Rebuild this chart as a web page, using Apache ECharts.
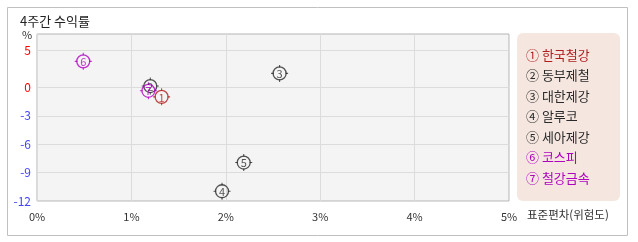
<!DOCTYPE html>
<html><head><meta charset="utf-8">
<script src="https://cdn.jsdelivr.net/npm/echarts@6/dist/echarts.min.js"></script>
<style>html,body{margin:0;padding:0;background:#fff}#c{width:638px;height:242px}</style>
</head><body><div id="c"></div>
<script>
const names = ['한국철강','동부제철','대한제강','알루코','세아제강','코스피','철강금속'];
const marks = ['①','②','③','④','⑤','⑥','⑦'];
const nums = ['1','2','3','4','5','6','7'];
const stdDev = [1.32, 1.20, 2.57, 1.96, 2.19, 0.49, 1.18];
const returns4w = [-1.0, 0.14, 1.48, -10.97, -7.94, 2.75, -0.36];
const colors = ['#b01c1c','#2a2a2a','#2a2a2a','#2a2a2a','#2a2a2a','#b000c0','#b000c0'];
const xTicks = [0,1,2,3,4,5];
const yTickVals = [-12,-9,-6,-3,0,3.92];
const yTickLabels = ['-12','-9','-6','-3','0','5'];
const FONT = '"Noto Sans CJK KR", "Noto Sans", sans-serif';

const chart = echarts.init(document.getElementById('c'), null, {renderer:'canvas'});
const series = [];
names.forEach((n,i)=>{
  series.push({
    name:n, type:'scatter', z:3,
    data:[[stdDev[i], returns4w[i]]],
    symbol:'path://M7.5,0h1v2.5h-1z M7.5,13.5h1v2.5h-1z M0,7.5h2.5v1h-2.5z M13.5,7.5h2.5v1h-2.5z',
    symbolSize:17,
    itemStyle:{color:colors[i]},
    silent:true
  });
  series.push({
    name:n, type:'scatter', z:4,
    data:[[stdDev[i], returns4w[i]]],
    symbol:'circle', symbolSize:13,
    itemStyle:{color:'rgba(0,0,0,0)', borderColor:colors[i], borderWidth:1.3},
    label:{show:true, position:'inside', formatter:nums[i], color:colors[i], fontSize:11, fontFamily:FONT, offset:[0,0.5]}
  });
});

chart.setOption({
  animation:false,
  backgroundColor:'#fff',
  title:{text:'4주간 수익률', left:15, top:10, textStyle:{fontSize:13, fontWeight:'normal', color:'#222', fontFamily:FONT}},
  grid:{left:37, top:34, right:129, bottom:41, show:true, backgroundColor:'#f4f4f4', borderColor:'#b4b4b4', borderWidth:1},
  xAxis:{type:'value', min:0, max:5, interval:1,
    axisLine:{show:false}, axisTick:{show:false},
    splitLine:{show:true, lineStyle:{color:'#dcdcdc', width:1}},
    axisLabel:{formatter:v=>v+'%', color:'#333', fontSize:11, fontFamily:FONT, margin:10}
  },
  yAxis:{type:'value', min:-12, max:5.64,
    axisLine:{show:false}, axisTick:{show:false, customValues:yTickVals},
    splitLine:{show:true, lineStyle:{color:'#dcdcdc', width:1}},
    axisLabel:{customValues:yTickVals, margin:6, fontSize:12, fontFamily:FONT,
      formatter:v=>yTickLabels[yTickVals.indexOf(v)] ?? '',
      color:v=>v>=0?'#ff0000':'#4444ff'}
  },
  legend:{orient:'vertical', left:520, top:43, icon:'none', itemGap:7, itemWidth:0, itemHeight:14,
    data:names.map((n,i)=>({name:n, textStyle:{color:colors[i]}})),
    formatter:n=>marks[names.indexOf(n)]+' '+n,
    textStyle:{fontSize:13, fontFamily:FONT, padding:[0,0,0,-4]},
    selectedMode:false
  },
  graphic:[
    {type:'rect', shape:{x:7.5,y:7.5,width:620,height:228}, style:{fill:'none', stroke:'#c0c0c0', lineWidth:1}, z:-10, silent:true},
    {type:'rect', shape:{x:517,y:33,width:103,height:168,r:6}, style:{fill:'#f5e7e0'}, z:-5, silent:true},
    {type:'text', left:22, top:29, style:{text:'%', fontSize:11, fill:'#333', fontFamily:FONT}},
    {type:'text', left:527, top:209, style:{text:'표준편차(위험도)', fontSize:11.5, fill:'#333', fontFamily:FONT}}
  ],
  series:series
});
</script></body></html>
